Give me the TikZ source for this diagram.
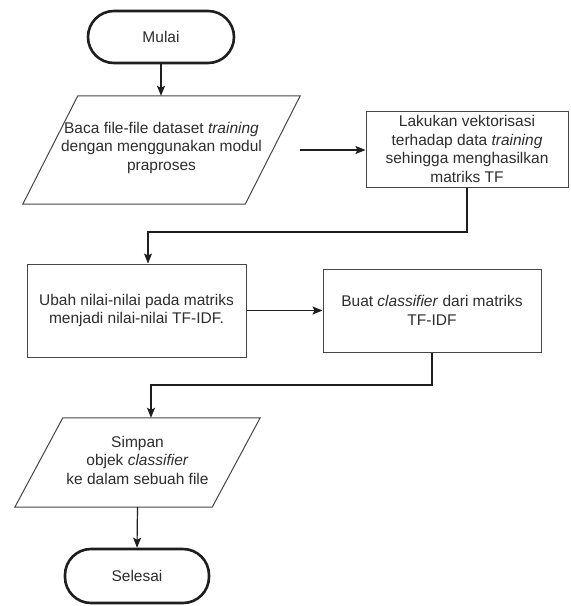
\documentclass[tikz,border=0pt]{standalone}
\usepackage{fontspec}
\setmainfont{Liberation Sans}
\usetikzlibrary{arrows.meta,calc}
\definecolor{txtc}{RGB}{45,45,45}
\definecolor{linec}{RGB}{30,30,30}
\definecolor{boxc}{RGB}{70,70,70}
\begin{document}
\begin{tikzpicture}[x=1pt,y=-1pt,
  txt/.style={font=\fontsize{15.5}{18.5}\selectfont, text=txtc, align=center, inner sep=0pt},
  box/.style={txt, draw=boxc, line width=1pt},
  term/.style={txt, draw=linec, line width=2.6pt, rounded corners=26pt},
  frame/.style={txt},
  edge/.style={draw=boxc, line width=1pt},
  conn/.style={draw=linec, line width=1.2pt},
  arr/.style={conn, -{Stealth[length=10pt,width=8pt,inset=2pt]}}
]
\useasboundingbox[fill=white] (0,0) rectangle (571,606);

\node[term, minimum width=146pt, minimum height=52pt] (start) at (161,37) {Mulai};

\node[frame, minimum width=277pt, minimum height=108pt] (p1) at (161.5,150)
  {\\[-12pt]Baca file-file dataset \textit{training}\\dengan menggunakan modul\\praproses};
\draw[edge] ($(p1.north west)+(55,0)$) -- (p1.north east) -- ($(p1.south east)+(-55,0)$) -- (p1.south west) -- cycle;

\node[box, minimum width=202pt, minimum height=76pt] (b2) at (467,149)
  {Lakukan vektorisasi\\terhadap data \textit{training}\\sehingga menghasilkan\\matriks TF};

\node[box, minimum width=219pt, minimum height=93pt] (b3) at (136.5,310.5)
  {Ubah nilai-nilai pada matriks\\menjadi nilai-nilai TF-IDF.};

\node[box, minimum width=218pt, minimum height=83pt] (b4) at (432,310.5)
  {Buat \textit{classifier} dari matriks\\TF-IDF};

\node[frame, minimum width=245pt, minimum height=89pt] (p2) at (137.5,462.5)
  {\\[-12pt]Simpan\\objek \textit{classifier}\\ke dalam sebuah file};
\draw[edge] ($(p2.north west)+(48,0)$) -- (p2.north east) -- ($(p2.south east)+(-48,0)$) -- (p2.south west) -- cycle;

\node[term, minimum width=144pt, minimum height=54pt] (end) at (137,576) {Selesai};

\coordinate (c1) at (148,232);
\coordinate (c2) at (151,385);

\draw[arr] (start.south) -- (start.south |- p1.north);
\draw[arr] (p1.east) -- (p1.east -| b2.west);
\draw[arr] (b2.south) |- (c1) -- (c1 |- b3.north);
\draw[arr] (b3.east) -- (b3.east -| b4.west);
\draw[arr] (b4.south) |- (c2) -- (c2 |- p2.north);
\draw[arr] (p2.south) -- (end.north);
\end{tikzpicture}
\end{document}
